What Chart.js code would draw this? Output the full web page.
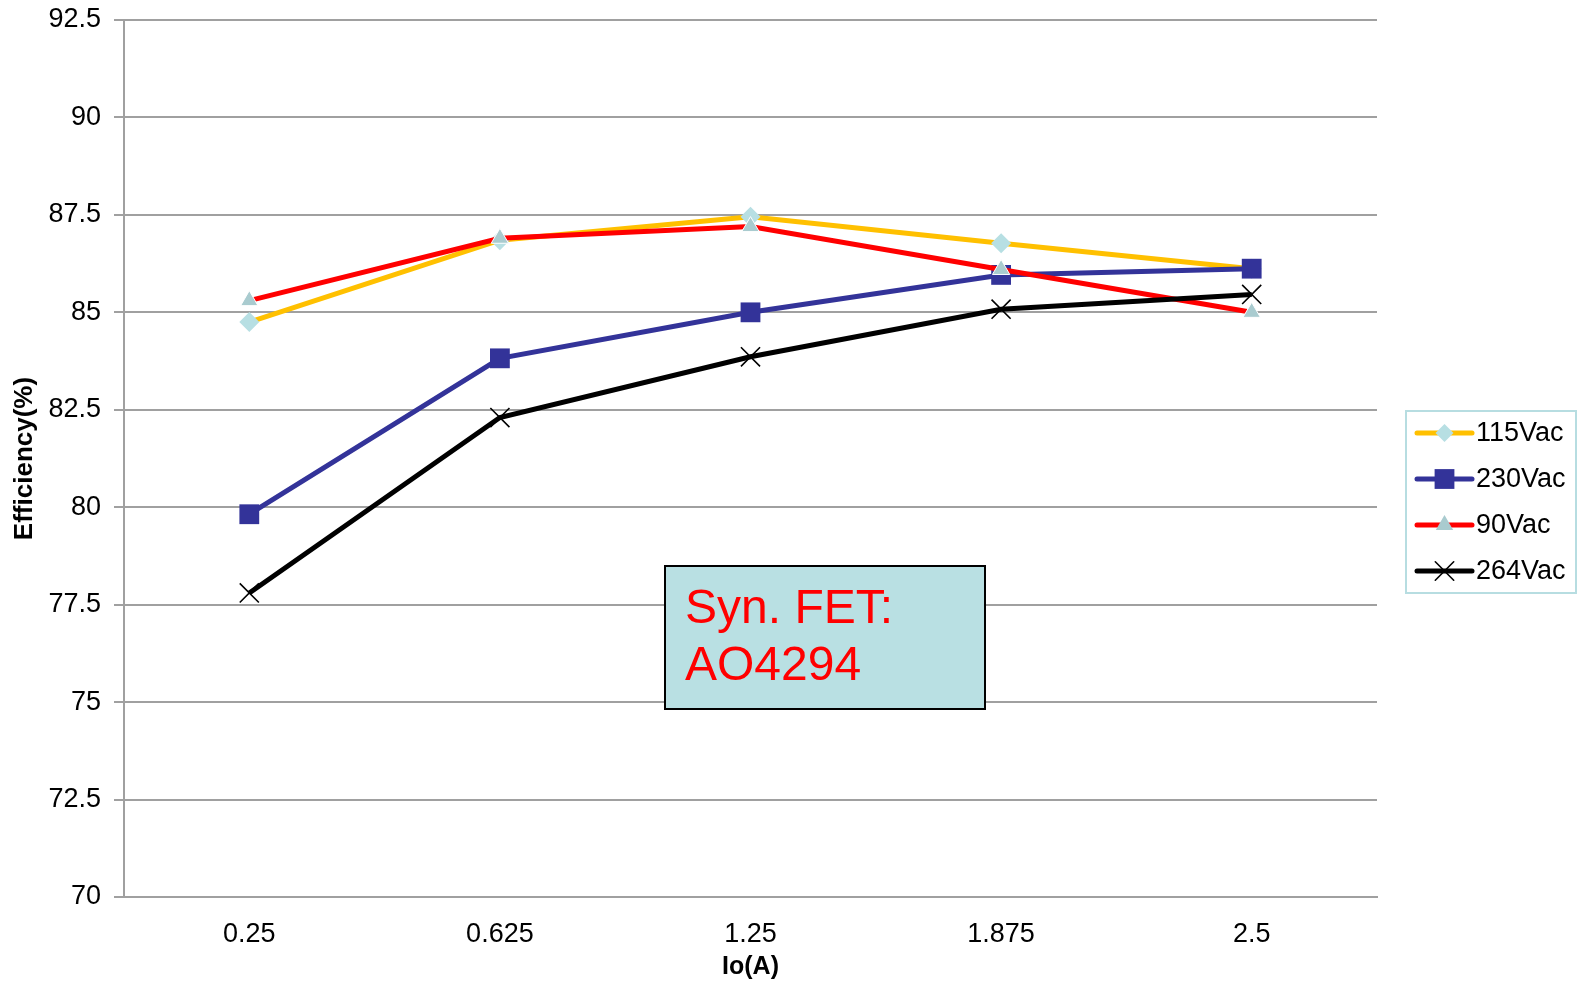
<!DOCTYPE html>
<html>
<head>
<meta charset="utf-8">
<title>Efficiency vs Io</title>
<script src="https://cdn.jsdelivr.net/npm/chart.js@4.4.1/dist/chart.umd.min.js"></script>
<style>
  html, body { margin: 0; padding: 0; background: #ffffff; }
  #wrap { width: 1579px; height: 982px; }
</style>
</head>
<body>
<div id="wrap"><canvas id="c" width="1579" height="982"></canvas></div>
<script>
// Output current Io (A) along the bottom axis
const loadCurrents = ['0.25', '0.625', '1.25', '1.875', '2.5'];

// Efficiency (%) for each input voltage
const eff115 = [84.75, 86.85, 87.45, 86.77, 86.12];
const eff230 = [79.82, 83.82, 85.0, 85.96, 86.12];
const eff90  = [85.3, 86.9, 87.2, 86.1, 85.0];
const eff264 = [77.8, 82.3, 83.86, 85.08, 85.46];

// Vertical axis range and step
const yMin = 70;
const yMax = 92.5;
const yStep = 2.5;

const FONT = '"Liberation Sans", Arial, Helvetica, sans-serif';

// Draws one legend symbol in the same style as the series markers
function drawSymbol(ctx, style, x, y, r, fill, stroke, lw) {
  ctx.save();
  ctx.beginPath();
  ctx.fillStyle = fill;
  ctx.strokeStyle = stroke;
  ctx.lineWidth = lw;
  if (style === 'rectRot') {
    ctx.moveTo(x, y - r); ctx.lineTo(x + r, y); ctx.lineTo(x, y + r); ctx.lineTo(x - r, y);
    ctx.closePath(); ctx.fill();
  } else if (style === 'rect') {
    const s = r * Math.SQRT1_2;
    ctx.rect(x - s, y - s, 2 * s, 2 * s); ctx.fill();
  } else if (style === 'triangle') {
    const h = r;
    ctx.moveTo(x, y - h); ctx.lineTo(x + h * 0.87, y + h * 0.5); ctx.lineTo(x - h * 0.87, y + h * 0.5);
    ctx.closePath(); ctx.fill();
  } else if (style === 'crossRot') {
    const s = r * Math.SQRT1_2;
    ctx.moveTo(x - s, y - s); ctx.lineTo(x + s, y + s);
    ctx.moveTo(x - s, y + s); ctx.lineTo(x + s, y - s);
    ctx.stroke();
  }
  ctx.restore();
}

// Boxed legend on the right-hand side
const sideLegend = {
  id: 'sideLegend',
  afterDraw(chart) {
    const ctx = chart.ctx;
    const area = chart.chartArea;
    const bx = area.right + 29, by = 411, bw = 170, bh = 182;
    ctx.save();
    ctx.fillStyle = '#ffffff';
    ctx.fillRect(bx, by, bw, bh);
    ctx.strokeStyle = '#b7dde1';
    ctx.lineWidth = 2;
    ctx.strokeRect(bx, by, bw, bh);
    ctx.font = '27px ' + FONT;
    ctx.textBaseline = 'middle';
    ctx.textAlign = 'left';
    chart.data.datasets.forEach((ds, k) => {
      const cy = by + 22 + k * 46;
      const x0 = bx + 11, x1 = bx + 66;
      ctx.beginPath();
      ctx.strokeStyle = ds.borderColor;
      ctx.lineWidth = 5;
      ctx.lineCap = 'round';
      ctx.moveTo(x0, cy); ctx.lineTo(x1, cy);
      ctx.stroke();
      drawSymbol(ctx, ds.pointStyle, (x0 + x1) / 2, cy, ds.legendRadius,
                 ds.pointBackgroundColor, ds.pointBorderColor, ds.crossWidth || 1);
      ctx.fillStyle = '#000000';
      ctx.fillText(ds.label, x1 + 4, cy + 1);
    });
    ctx.restore();
  }
};

// Text box naming the synchronous rectifier part
const fetNote = {
  id: 'fetNote',
  afterDraw(chart) {
    const ctx = chart.ctx;
    const x = 665, y = 566, w = 320, h = 143;
    ctx.save();
    ctx.fillStyle = '#b9e0e3';
    ctx.fillRect(x, y, w, h);
    ctx.strokeStyle = '#000000';
    ctx.lineWidth = 2;
    ctx.strokeRect(x, y, w, h);
    ctx.fillStyle = '#ff0000';
    ctx.font = '48px ' + FONT;
    ctx.textAlign = 'left';
    ctx.textBaseline = 'alphabetic';
    ctx.fillText('Syn. FET:', x + 20, y + 57);
    ctx.fillText('AO4294', x + 20, y + 114);
    ctx.restore();
  }
};

new Chart(document.getElementById('c'), {
  type: 'line',
  data: {
    labels: loadCurrents,
    datasets: [
      {
        label: '115Vac', data: eff115, order: 4,
        borderColor: '#ffc000', borderWidth: 5,
        pointStyle: 'rectRot', pointRadius: 10, pointHoverRadius: 10,
        pointBackgroundColor: '#b7dfe3', pointBorderColor: '#b7dfe3', pointBorderWidth: 0,
        legendRadius: 9
      },
      {
        label: '230Vac', data: eff230, order: 3,
        borderColor: '#333399', borderWidth: 5,
        pointStyle: 'rect', pointRadius: 14, pointHoverRadius: 14,
        pointBackgroundColor: '#333399', pointBorderColor: '#333399', pointBorderWidth: 0,
        legendRadius: 14
      },
      {
        label: '90Vac', data: eff90, order: 2,
        borderColor: '#ff0000', borderWidth: 5,
        pointStyle: 'triangle', pointRadius: 10, pointHoverRadius: 10,
        pointBackgroundColor: '#a9cbcf', pointBorderColor: '#ffffff', pointBorderWidth: 1,
        legendRadius: 10
      },
      {
        label: '264Vac', data: eff264, order: 1,
        borderColor: '#000000', borderWidth: 5,
        pointStyle: 'crossRot', pointRadius: 13.5, pointHoverRadius: 13.5,
        pointBackgroundColor: '#000000', pointBorderColor: '#000000', pointBorderWidth: 1.6,
        legendRadius: 13, crossWidth: 1.6
      }
    ]
  },
  options: {
    responsive: false,
    devicePixelRatio: 1,
    animation: false,
    events: [],
    layout: { padding: { top: 20, right: 202, bottom: 0, left: 0 } },
    elements: { line: { tension: 0 } },
    plugins: {
      legend: { display: false },
      tooltip: { enabled: false },
      title: { display: false }
    },
    scales: {
      x: {
        type: 'category',
        offset: true,
        grid: { display: false, drawTicks: false },
        border: { display: true, color: '#a0a0a0', width: 2 },
        ticks: { color: '#000000', padding: 21, font: { family: FONT, size: 27 }, maxRotation: 0 },
        title: {
          display: true, text: 'Io(A)', color: '#000000',
          font: { family: FONT, size: 25, weight: 'bold' },
          padding: { top: 0, bottom: 0 }
        },
        afterFit(scale) {
          scale.height = 85;
          scale.paddingLeft = 0; scale.paddingRight = 0;
        }
      },
      y: {
        min: yMin, max: yMax,
        grid: { color: '#a0a0a0', lineWidth: 2, drawTicks: true, tickLength: 10, tickColor: '#a0a0a0' },
        border: { display: true, color: '#a0a0a0', width: 2 },
        ticks: {
          stepSize: yStep, color: '#000000', padding: 13,
          font: { family: FONT, size: 27 },
          callback: (v) => String(v)
        },
        title: {
          display: true, text: 'Efficiency(%)', color: '#000000',
          font: { family: FONT, size: 26, weight: 'bold' },
          padding: { top: 9, bottom: 0 }
        },
        afterFit(scale) {
          scale.width = 124;
          scale.paddingTop = 0; scale.paddingBottom = 0;
        }
      }
    }
  },
  plugins: [sideLegend, fetNote]
});
</script>
</body>
</html>
